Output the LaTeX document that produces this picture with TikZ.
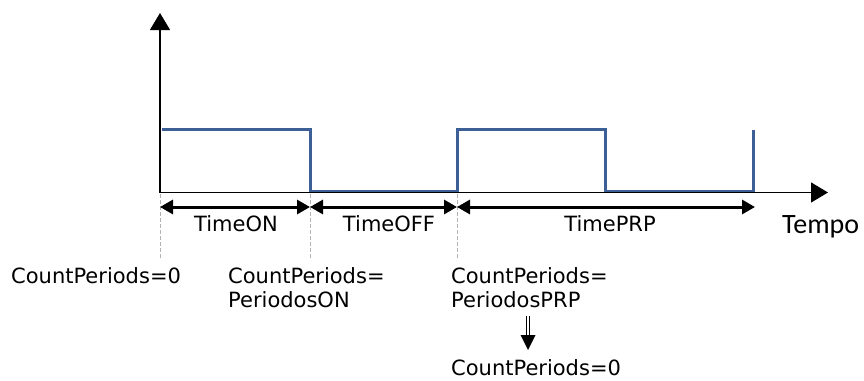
\documentclass[tikz,border=0pt]{standalone}
\usepackage{fontspec}
\setmainfont{DejaVu Sans}
\newfontfamily\tempofont{Carlito}
\usetikzlibrary{arrows.meta}
\definecolor{sigblue}{RGB}{60,95,150}
\tikzset{
    axisline/.style={line width=1.2pt,-{Triangle[length=17pt,width=20pt]}},
    dimline/.style={line width=3pt,{Triangle[length=13pt,width=14pt]}-{Triangle[length=13pt,width=14pt]}},
    guideline/.style={gray!60,line width=1pt,dash pattern=on 4pt off 2pt},
    signal/.style={sigblue,line width=3pt},
    lbl/.style={inner sep=0pt,font=\fontsize{21}{25}\selectfont},
}
\begin{document}
\begin{tikzpicture}[x=1pt,y=-1pt]
    \useasboundingbox (0,0) rectangle (864,380);
        \coordinate (o) at (160,192.5);
        \coordinate (ytop) at (160,13);
        \coordinate (xend) at (828,192.5);
    \draw[signal](162,129.5) -- (310,129.5) -- (310,191) -- (457,191) -- (457,129.5)
        -- (605,129.5) -- (605,191) -- (753,191) -- (753,129.5);
    \draw[axisline](o) to (ytop);
    \draw[axisline](o) to (xend);

    %%guides
        \coordinate (d0) at (160,207);
        \coordinate (d1) at (310,207);
        \coordinate (d2) at (457,207);
        \coordinate (d3) at (755,207);
        \coordinate (g0) at (160,258);
        \coordinate (g1) at (310,258);
        \coordinate (g2) at (457,258);
    \draw[guideline](160,194) to (g0);
    \draw[guideline](310,194) to (g1);
    \draw[guideline](457,194) to (g2);
    \draw[dimline](d0) to (d1);
    \draw[dimline](d1) to (d2);
    \draw[dimline](d2) to (d3);

    %%nodes
    \node[lbl,anchor=base] (ton) at (236,231){TimeON};
    \node[lbl,anchor=base] (toff) at (389,231){TimeOFF};
    \node[lbl,anchor=base] (tprp) at (610,231){TimePRP};
    \node[inner sep=0pt,anchor=base west,font=\tempofont\fontsize{28}{30}\selectfont] (tempo) at (782,233){Tempo};
    \node[lbl,anchor=base west] (cz) at (11,283){CountPeriods=0};
    \node[lbl,anchor=base west] (con) at (228,283){CountPeriods=};
    \node[lbl,anchor=base west] (con2) at (228,307.5){PeriodosON};
    \node[lbl,anchor=base west] (cprp) at (451,283){CountPeriods=};
    \node[lbl,anchor=base west] (cprp2) at (451,307.5){PeriodosPRP};
    \node[lbl,anchor=base west] (cend) at (451,375){CountPeriods=0};

    %%reset arrow
        \coordinate (ra) at (528,316);
        \coordinate (rb) at (528,336);
        \coordinate (rc) at (528,350);
    \draw[line width=1pt,double distance=2.4pt](ra) to (rb);
    \fill (rb) ++(-7.5,-1) -- ++(15,0) -- (rc) -- cycle;
\end{tikzpicture}
\end{document}
